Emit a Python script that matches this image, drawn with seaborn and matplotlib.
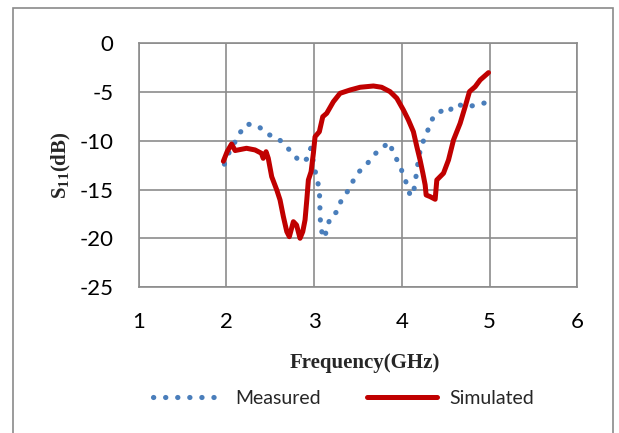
import matplotlib
matplotlib.use("Agg")
import matplotlib.pyplot as plt
import seaborn as sns
import pandas as pd
from matplotlib.patches import Rectangle

# Measured return loss (GHz, dB)
meas_freq = [1.978, 2.023, 2.088, 2.153, 2.235, 2.362, 2.463, 2.582, 2.669, 2.756,
             2.846, 2.920, 2.962, 3.012, 3.044, 3.062, 3.066, 3.070, 3.079, 3.118,
             3.150, 3.190, 3.264, 3.308, 3.384, 3.446, 3.518, 3.613, 3.694, 3.788,
             3.860, 3.900, 3.963, 4.013, 4.058, 4.098, 4.134, 4.156, 4.174, 4.219,
             4.278, 4.314, 4.376, 4.448, 4.538, 4.583, 4.646, 4.745, 4.862, 4.978]
meas_s11 = [-12.4, -11.35, -10.3, -9.2, -8.28, -8.48, -9.3, -9.7, -10.43, -11.33,
            -12.2, -11.86, -10.77, -13.1, -14.3, -15.5, -16.7, -17.9, -19.12, -20.0,
            -18.87, -17.72, -17.27, -16.15, -15.16, -14.1, -13.13, -12.27, -11.35, -10.63,
            -10.15, -11.21, -12.27, -13.37, -14.5, -15.69, -15.25, -14.05, -12.82, -10.46,
            -9.5, -8.38, -7.28, -6.97, -7.11, -6.36, -6.29, -6.53, -6.29, -6.05]

# Simulated return loss (GHz, dB)
sim_freq = [1.966, 2.010, 2.060, 2.100, 2.230, 2.327, 2.400, 2.420, 2.453, 2.478,
            2.517, 2.575, 2.612, 2.650, 2.689, 2.718, 2.764, 2.800, 2.840, 2.871,
            2.897, 2.917, 2.935, 2.966, 2.992, 3.011, 3.060, 3.099, 3.144, 3.220,
            3.296, 3.410, 3.525, 3.676, 3.770, 3.866, 3.943, 4.018, 4.075, 4.132,
            4.171, 4.208, 4.240, 4.266, 4.277, 4.323, 4.380, 4.399, 4.475, 4.532,
            4.589, 4.665, 4.722, 4.771, 4.836, 4.893, 4.988]
sim_s11 = [-12.1, -11.1, -10.33, -11.0, -10.77, -10.94, -11.28, -11.8, -11.12, -11.8,
           -13.68, -15.05, -16.07, -17.78, -19.32, -19.84, -18.3, -18.64, -20.0, -19.32,
           -18.12, -16.07, -14.02, -13.17, -11.28, -9.58, -9.07, -7.53, -7.18, -5.99,
           -5.13, -4.79, -4.51, -4.38, -4.51, -4.96, -5.64, -6.84, -7.87, -9.07,
           -10.6, -11.97, -13.33, -14.53, -15.56, -15.73, -16.0, -14.02, -13.33, -11.97,
           -9.92, -8.2, -6.5, -4.96, -4.45, -3.76, -3.01]

x_ticks = [1, 2, 3, 4, 5, 6]
y_ticks = [0, -5, -10, -15, -20, -25]

meas_df = pd.DataFrame({"Frequency": meas_freq, "S11": meas_s11})
sim_df = pd.DataFrame({"Frequency": sim_freq, "S11": sim_s11})

sns.set_theme(style="white")
plt.rcParams["font.family"] = ["Lato", "DejaVu Sans"]

W, H = 619, 433
fig = plt.figure(figsize=(W / 100, H / 100), dpi=100)
fig.patch.set_facecolor("white")

# outer chart frame
fig.add_artist(Rectangle((13 / W, -0.05), (613 - 13) / W, 1.05 - 8.5 / H,
                         transform=fig.transFigure, fill=False,
                         edgecolor="#8a8a8a", linewidth=1.2))

ax_left, ax_right, ax_top, ax_bottom = 138.6, 577.3, 43.3, 287.0
ax = fig.add_axes([ax_left / W, 1 - ax_bottom / H,
                   (ax_right - ax_left) / W, (ax_bottom - ax_top) / H])

grid_col = "#8c8c8c"
ax.set_xlim(1, 6)
ax.set_ylim(-25, 0)
ax.set_xticks(x_ticks)
ax.set_yticks(y_ticks)
ax.grid(True, color=grid_col, linewidth=1.2)
ax.set_axisbelow(True)
for s in ax.spines.values():
    s.set_color(grid_col)
    s.set_linewidth(1.2)

sns.lineplot(data=meas_df, x="Frequency", y="S11", ax=ax, sort=False,
             estimator=None, color="#4a7ebb", linewidth=3.7,
             linestyle=(0, (0.05, 2.3)), dash_capstyle="round",
             label="Measured")
sns.lineplot(data=sim_df, x="Frequency", y="S11", ax=ax, sort=False,
             estimator=None, color="#c00000", linewidth=3.6,
             solid_capstyle="round", solid_joinstyle="round",
             label="Simulated")

ax.tick_params(axis="both", labelsize=16, length=0, colors="black")
ax.set_yticklabels([str(v) for v in y_ticks])
ax.tick_params(axis="x", pad=18)
ax.tick_params(axis="y", pad=18)

label_font = dict(family="Liberation Serif", weight="bold", size=15)
ax.set_xlabel("Frequency(GHz)", **label_font)
ax.xaxis.set_label_coords((365 - ax_left) / (ax_right - ax_left),
                          -(363 - ax_bottom) / (ax_bottom - ax_top))
ax.xaxis.label.set_verticalalignment("center")
ax.set_ylabel(r"S$_\mathregular{11}$(dB)", **label_font)
ax.yaxis.set_label_coords(-(ax_left - 61) / (ax_right - ax_left), 0.5)
ax.yaxis.label.set_verticalalignment("center")

leg = ax.legend(loc="center",
                bbox_to_anchor=((343.5 - ax_left) / (ax_right - ax_left),
                                -(398 - ax_bottom) / (ax_bottom - ax_top)),
                ncol=2, frameon=False, fontsize=14, handlelength=3.6,
                columnspacing=2.4, handletextpad=0.6)

fig.savefig("out.png", dpi=100, facecolor="white")
